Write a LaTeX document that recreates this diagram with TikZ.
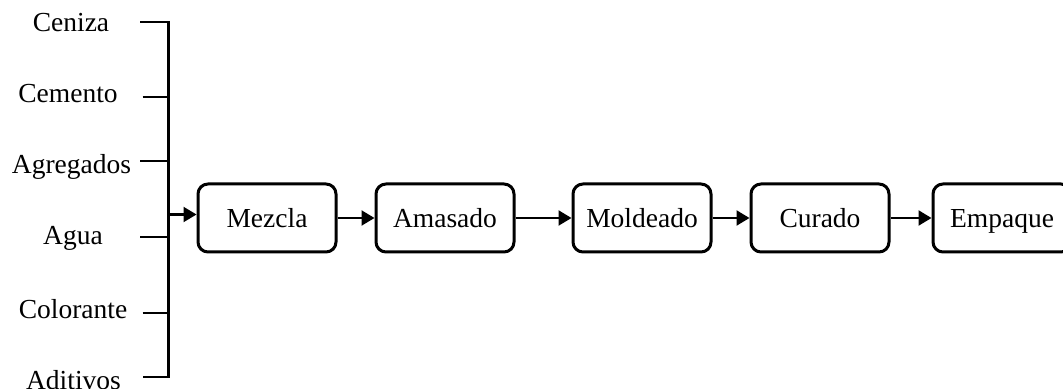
\documentclass[tikz,border=0pt]{standalone}
\usepackage{fontspec}
\setmainfont{Liberation Serif}
\usetikzlibrary{arrows.meta, positioning}
\tikzset{
  stage/.style={
    rectangle, rounded corners=5pt,
    draw=black, fill=white, line width=1.5pt,
    minimum width=69pt, minimum height=34pt,
    text height=9.5pt, text depth=0pt,
    align=center, font=\fontsize{13.75pt}{16pt}\selectfont
  },
  inlabel/.style={anchor=base, inner sep=0pt, font=\fontsize{13.75pt}{16pt}\selectfont},
  feed/.style={line width=1.1pt, draw=black},
  arrow/.style={-{Triangle[length=6.5pt,width=7.5pt]}, line width=1.1pt, draw=black},
}

\begin{document}
\begin{tikzpicture}[x=0.5pt, y=-0.5pt, node distance=18.5pt]
  \useasboundingbox (0,0) rectangle (1063,389);

  % materias primas
  \node[inlabel] (ceniza) at (71,32) {Ceniza};
  \node[inlabel] (cemento) at (68,103) {Cemento};
  \node[inlabel] (agregados) at (71.5,174) {Agregados};
  \node[inlabel] (agua) at (73,245) {Agua};
  \node[inlabel] (colorante) at (73,318) {Colorante};
  \node[inlabel] (aditivos) at (73.5,389) {Aditivos};

  \coordinate (c1) at (140,21.7);
  \coordinate (c2) at (142.7,96.7);
  \coordinate (c3) at (140,160.7);
  \coordinate (c4) at (140,236.7);
  \coordinate (c5) at (142.7,312.7);
  \coordinate (c6) at (142.7,376.7);
  \coordinate (rail) at (168.5,0);
  \coordinate (join) at (168.5,214.5);

  \draw[feed] (c1) -- (c1 -| rail) -- (c6 -| rail) -- (c6);
  \foreach \c in {c2, c3, c4, c5}
    \draw[feed] (\c) -- (\c -| rail);

  % proceso
  \node[stage] (mezcla) at (267,218) {Mezcla};
  \node[stage, right=of mezcla] (amasado) {Amasado};
  \node[stage, right=28pt of amasado] (moldeado) {Moldeado};
  \node[stage, right=of moldeado] (curado) {Curado};
  \node[stage, right=20.5pt of curado] (empaque) {Empaque};

  \draw[arrow] (join) -- (join -| mezcla.west);
  \foreach \from/\to in {mezcla/amasado, amasado/moldeado, moldeado/curado, curado/empaque}
    \draw[arrow] (\from) -- (\to);
\end{tikzpicture}
\end{document}
